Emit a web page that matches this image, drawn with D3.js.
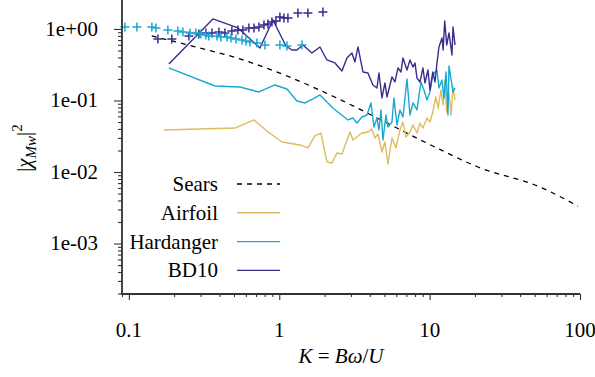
<!DOCTYPE html>
<html>
<head>
<meta charset="utf-8">
<script src="https://cdn.jsdelivr.net/npm/d3@7"></script>
</head>
<body style="margin:0">
<div id="chart"></div>
<script>
// [K, |chi|^2]
const sears = [[0.142, 0.798], [0.297, 0.542], [0.548, 0.381], [1.125, 0.220], [2.419, 0.108],
  [5.203, 0.0484], [10.5, 0.0231], [20.97, 0.01175], [54.2, 0.00617], [97.0, 0.00334]];

const airfoil = [[0.171, 0.0387], [0.507, 0.0412], [0.679, 0.0534], [0.828, 0.0374], [1.042, 0.0263],
  [1.372, 0.0239], [1.551, 0.0217], [1.727, 0.0319], [1.893, 0.0351], [2.076, 0.0138], [2.241, 0.01336],
  [2.419, 0.01844], [2.612, 0.01785], [2.952, 0.0363], [3.091, 0.0280], [3.548, 0.0351], [3.888, 0.0363],
  [4.134, 0.0399], [4.329, 0.0299], [4.533, 0.0340], [4.82, 0.01905], [5.045, 0.0263], [5.283, 0.01294],
  [5.616, 0.0299], [5.97, 0.0217], [6.35, 0.0387], [6.65, 0.0500], [6.96, 0.0309], [7.40, 0.0363],
  [7.75, 0.0454], [8.24, 0.0351], [8.63, 0.0484], [9.03, 0.0412], [9.60, 0.0569], [10.05, 0.0500],
  [10.5, 0.0690], [11.0, 0.112], [11.4, 0.0785], [11.9, 0.140], [12.3, 0.0865], [12.6, 0.1935],
  [13.0, 0.0690], [13.45, 0.1273], [13.87, 0.0627], [14.3, 0.1544], [14.75, 0.1016]];

const hardanger = [[0.1845, 0.2848], [0.373, 0.1595], [0.5475, 0.1544], [0.732, 0.1315], [0.936, 0.1648],
  [1.125, 0.1448], [1.311, 0.0984], [1.482, 0.0923], [1.675, 0.105], [1.864, 0.1194], [2.275, 0.0785],
  [2.862, 0.0534], [3.091, 0.0569], [3.287, 0.0484], [3.548, 0.0588], [3.830, 0.0627], [4.072, 0.0923],
  [4.264, 0.0426], [4.464, 0.0569], [4.603, 0.0387], [4.746, 0.0737], [4.894, 0.0280], [5.124, 0.0627],
  [5.283, 0.0426], [5.616, 0.0500], [5.79, 0.1084], [6.065, 0.0454], [6.35, 0.0737], [6.65, 0.0588],
  [7.07, 0.1999], [7.40, 0.0627], [7.75, 0.0923], [8.24, 0.0737], [8.76, 0.1815], [9.17, 0.140],
  [9.60, 0.1016], [10.05, 0.1315], [10.5, 0.2273], [11.19, 0.267], [11.54, 0.1496], [12.08, 0.1935],
  [12.46, 0.1084], [12.85, 0.2504], [13.24, 0.0627], [13.45, 0.3038], [14.3, 0.1315], [14.75, 0.1496]];

const bd10 = [[0.1845, 0.324], [0.362, 1.380], [0.531, 1.033], [0.744, 0.542], [0.908, 1.336],
  [1.108, 0.578], [1.214, 0.508], [1.311, 0.508], [1.437, 0.597], [1.649, 0.4617], [1.864, 0.560],
  [2.076, 0.3686], [2.346, 0.3346], [2.612, 0.2586], [2.818, 0.393], [3.043, 0.4617], [3.187, 0.3455],
  [3.337, 0.560], [3.603, 0.2504], [3.888, 0.2424], [4.199, 0.1648], [4.464, 0.1496], [4.603, 0.2424],
  [4.82, 0.1084], [5.045, 0.1757], [5.203, 0.112], [5.616, 0.2132], [5.88, 0.1815], [6.16, 0.2848],
  [6.45, 0.2504], [6.65, 0.393], [7.07, 0.267], [7.40, 0.3686], [7.75, 0.294], [7.99, 0.3346],
  [8.24, 0.2064], [8.63, 0.1815], [9.03, 0.2848], [9.31, 0.1757], [9.75, 0.267], [10.05, 0.140],
  [10.5, 0.2504], [10.85, 0.1815], [11.19, 0.3346], [11.54, 0.560], [12.08, 0.748], [12.3, 0.508],
  [12.6, 1.294], [13.0, 0.597], [13.45, 0.879], [14.08, 0.433], [14.3, 1.066], [14.75, 0.597]];

// measured points (+ markers), no legend entry
const hardangerPts = [[0.0941, 1.066], [0.113, 1.066], [0.1422, 1.066], [0.1512, 1.033], [0.1817, 0.968],
  [0.2118, 0.938], [0.2287, 0.908], [0.255, 0.879], [0.279, 0.879], [0.301, 0.851], [0.325, 0.824],
  [0.340, 0.798], [0.385, 0.798], [0.409, 0.773], [0.449, 0.773], [0.477, 0.748], [0.515, 0.725],
  [0.565, 0.702], [0.600, 0.680], [0.638, 0.658], [0.710, 0.637], [0.803, 0.597], [1.01, 0.597],
  [1.125, 0.578], [1.415, 0.597]];

const bd10Pts = [[0.156, 0.725], [0.193, 0.725], [0.2506, 0.798], [0.292, 0.851], [0.325, 0.879],
  [0.357, 0.879], [0.397, 0.908], [0.435, 0.879], [0.484, 0.938], [0.531, 0.968], [0.573, 0.968],
  [0.628, 1.033], [0.679, 1.033], [0.732, 1.066], [0.791, 1.137], [0.841, 1.175], [0.894, 1.253],
  [0.950, 1.294], [1.01, 1.472], [1.074, 1.425], [1.142, 1.425], [1.331, 1.674], [1.551, 1.674],
  [1.952, 1.729]];

const xTicks = [0.1, 1, 10, 100];
const xTickLabels = ['0.1', '1', '10', '100'];
const yTicks = [1e-3, 1e-2, 1e-1, 1];
const yTickLabels = ['1e-03', '1e-02', '1e-01', '1e+00'];

const legendItems = [
  { label: 'Sears', color: '#000', dash: '5,5' },
  { label: 'Airfoil', color: '#DDBB5F', dash: null },
  { label: 'Hardanger', color: '#17A9D1', dash: null },
  { label: 'BD10', color: '#3A2B8F', dash: null },
];

const width = 595;
const height = 377;
const margin = { top: 0, right: 15, bottom: 83, left: 122 };
const innerWidth = width - margin.left - margin.right;
const innerHeight = height - margin.top - margin.bottom;

// every text goes through this so the serif face is set on the element itself
const label = (parent, str) => parent.append('text')
  .attr('font-size', 21)
  .attr('font-family', 'Liberation Serif')
  .style('font-family', 'Liberation Serif, Times New Roman, Tinos, FreeSerif, serif')
  .text(str);

const svg = d3.select('#chart')
  .append('svg')
  .attr('width', width)
  .attr('height', height);

const g = svg.append('g')
  .attr('transform', `translate(${margin.left}, ${margin.top})`);

const scaleX = d3.scaleLog()
  .domain([0.09, 100])
  .range([0, innerWidth]);

const scaleY = d3.scaleLog()
  .domain([1.97e-4, 2.54])
  .range([innerHeight, 0]);

// minor ticks: 2..9 in every decade inside the domain
const minor = (lo, hi) => {
  const out = [];
  for (let e = -5; e <= 3; e++) {
    for (let m = 2; m <= 9; m++) {
      const v = m * Math.pow(10, e);
      if (v >= lo && v <= hi) out.push(v);
    }
  }
  return out;
};

const line = d3.line()
  .x(d => scaleX(d[0]))
  .y(d => scaleY(d[1]));

// data lines
g.append('path')
  .datum(sears)
  .attr('fill', 'none')
  .attr('stroke', '#000')
  .attr('stroke-width', 1.3)
  .attr('stroke-dasharray', '5,5')
  .attr('d', line.curve(d3.curveMonotoneX));

line.curve(d3.curveLinear);

[[airfoil, legendItems[1].color], [hardanger, legendItems[2].color], [bd10, legendItems[3].color]]
  .forEach(([data, color]) => {
    g.append('path')
      .datum(data)
      .attr('fill', 'none')
      .attr('stroke', color)
      .attr('stroke-width', 1.4)
      .attr('stroke-linejoin', 'round')
      .attr('d', line);
  });

const plus = 'M-4.5,0H4.5M0,-4.5V4.5';

[[bd10Pts, legendItems[3].color], [hardangerPts, legendItems[2].color]]
  .forEach(([data, color]) => {
    g.append('g')
      .selectAll('path')
      .data(data)
      .join('path')
      .attr('d', plus)
      .attr('transform', d => `translate(${scaleX(d[0])}, ${scaleY(d[1])})`)
      .attr('fill', 'none')
      .attr('stroke', color)
      .attr('stroke-width', 1.5);
  });

// axes: ticks through d3 axis (no labels), labels placed from the same scales
const axisStyle = a => {
  a.attr('font-family', null);
  a.select('.domain').remove();
  a.selectAll('text').remove();
  a.selectAll('line').attr('stroke', '#333').attr('stroke-width', 1.1);
};

g.append('g')
  .attr('transform', `translate(0, ${innerHeight})`)
  .call(d3.axisBottom(scaleX).tickValues(minor(0.09, 100)).tickSize(3))
  .call(axisStyle);

g.append('g')
  .attr('transform', `translate(0, ${innerHeight})`)
  .call(d3.axisBottom(scaleX).tickValues(xTicks).tickSize(6))
  .call(axisStyle);

g.append('g')
  .call(d3.axisLeft(scaleY).tickValues(minor(1.97e-4, 1.9)).tickSize(4))
  .call(axisStyle);

g.append('g')
  .call(d3.axisLeft(scaleY).tickValues(yTicks).tickSize(8))
  .call(axisStyle);

xTicks.forEach((t, i) => {
  label(g, xTickLabels[i])
    .attr('x', scaleX(t))
    .attr('y', innerHeight + 43)
    .attr('text-anchor', 'middle');
});

yTicks.forEach((t, i) => {
  label(g, yTickLabels[i])
    .attr('x', -24)
    .attr('y', scaleY(t))
    .attr('dy', '0.32em')
    .attr('text-anchor', 'end');
});

g.append('path')
  .attr('d', `M0,0V${innerHeight}H${innerWidth}`)
  .attr('fill', 'none')
  .attr('stroke', '#333')
  .attr('stroke-width', 1.8);

// axis titles
const xTitle = label(svg, null)
  .attr('x', 341)
  .attr('y', 363)
  .attr('text-anchor', 'middle');
xTitle.append('tspan').attr('font-style', 'italic').text('K');
xTitle.append('tspan').text(' = ');
xTitle.append('tspan').attr('font-style', 'italic').text('Bω');
xTitle.append('tspan').text('/');
xTitle.append('tspan').attr('font-style', 'italic').text('U');

const yTitle = label(svg, null)
  .attr('transform', 'translate(31, 148) rotate(-90)')
  .attr('text-anchor', 'middle');
yTitle.append('tspan').text('|');
yTitle.append('tspan').attr('font-style', 'italic').text('χ');
yTitle.append('tspan').attr('font-style', 'italic').attr('font-size', 15).attr('dy', 5).text('Mw');
yTitle.append('tspan').attr('dy', -5).text('|');
yTitle.append('tspan').attr('font-size', 15).attr('dy', -9).text('2');

// legend
const legend = svg.append('g')
  .attr('transform', 'translate(0, 184)');

legendItems.forEach((item, i) => {
  const row = legend.append('g')
    .attr('transform', `translate(0, ${i * 28.8})`);

  label(row, item.label)
    .attr('x', 218)
    .attr('y', 0)
    .attr('dy', '0.33em')
    .attr('text-anchor', 'end');

  row.append('line')
    .attr('x1', 237)
    .attr('x2', 280)
    .attr('stroke', item.color)
    .attr('stroke-width', 1.4)
    .attr('stroke-dasharray', item.dash);
});
</script>
</body>
</html>
